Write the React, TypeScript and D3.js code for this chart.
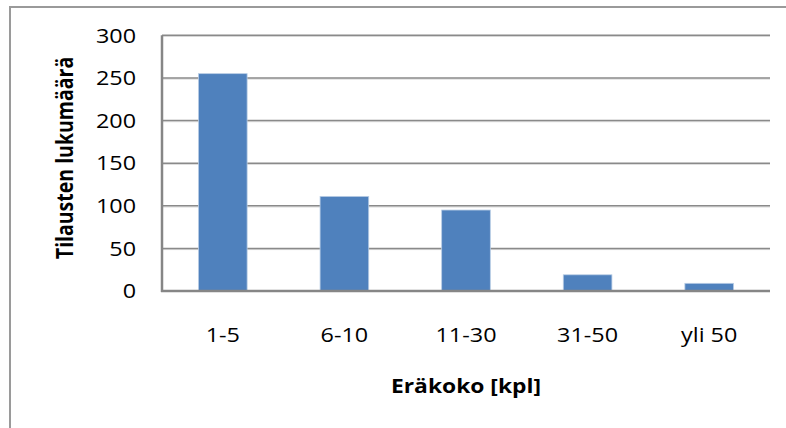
import React from "react";
import * as d3 from "d3";

const categories = ["1-5", "6-10", "11-30", "31-50", "yli 50"];
const orderCounts = [255, 111, 95, 19, 9];
const yTicks = [0, 50, 100, 150, 200, 250, 300];

const W = 786;
const H = 428;
const plot = { left: 162, right: 770, top: 35.3, bottom: 291 };
const font = "'Open Sans', 'Liberation Sans', sans-serif";
// glyphs are drawn slightly wide, as in the exported chart
const stretch = 1.17;

type LabelProps = {
  x: number;
  y: number;
  anchor: "start" | "middle" | "end";
  bold?: boolean;
  size?: number;
  dy?: string;
  children: React.ReactNode;
};

function Label({ x, y, anchor, bold, size = 20, dy, children }: LabelProps) {
  return (
    <text
      transform={`translate(${x},${y}) scale(${stretch},1)`}
      textAnchor={anchor}
      dy={dy}
      fontFamily={font}
      fontSize={size}
      fontWeight={bold ? "bold" : "normal"}
      fill="#000"
    >
      {children}
    </text>
  );
}

export default function App() {
  const x = d3
    .scaleBand<string>()
    .domain(categories)
    .range([plot.left, plot.right])
    .paddingInner(0.6)
    .paddingOuter(0.3);
  const y = d3.scaleLinear().domain([0, 300]).range([plot.bottom, plot.top]);

  return (
    <svg
      width={W}
      height={H}
      style={{ position: "fixed", left: 0, top: 0, background: "#fff" }}
    >
      {/* chart area frame */}
      <rect x={10} y={7} width={W + 10} height={H + 10} fill="#fff" stroke="#9a9a9a" strokeWidth={2} />

      {/* gridlines */}
      {yTicks.slice(1).map((t) => (
        <g key={t}>
          <line x1={plot.left} x2={plot.right} y1={y(t) + 1.2} y2={y(t) + 1.2} stroke="#d8d8d8" strokeWidth={1} />
          <line x1={plot.left} x2={plot.right} y1={y(t)} y2={y(t)} stroke="#8a8a8a" strokeWidth={1.5} />
        </g>
      ))}

      {/* bars */}
      {categories.map((c, i) => (
        <rect
          key={c}
          x={x(c)!}
          y={y(orderCounts[i])}
          width={x.bandwidth()}
          height={y(0) - y(orderCounts[i])}
          fill="#4f81bd"
          stroke="#b9cde5"
          strokeWidth={0.8}
        />
      ))}

      {/* axes */}
      <line x1={plot.left} x2={plot.left} y1={plot.top} y2={plot.bottom + 1} stroke="#868686" strokeWidth={2.5} />
      <line x1={plot.left - 1} x2={plot.right} y1={plot.bottom} y2={plot.bottom} stroke="#868686" strokeWidth={2.5} />

      {/* y tick labels */}
      {yTicks.map((t) => (
        <Label key={t} x={136} y={y(t)} dy="0.36em" anchor="end">
          {t}
        </Label>
      ))}

      {/* x tick labels */}
      {categories.map((c) => (
        <Label key={c} x={x(c)! + x.bandwidth() / 2} y={342} anchor="middle">
          {c}
        </Label>
      ))}

      {/* axis titles */}
      <Label x={(plot.left + plot.right) / 2} y={393} anchor="middle" bold size={19.5}>
        Eräkoko [kpl]
      </Label>
      <text
        transform={`translate(72.5, 158) rotate(-90) scale(1,${stretch})`}
        textAnchor="middle"
        fontFamily={font}
        fontSize={19.5}
        fontWeight="bold"
        fill="#000"
      >
        Tilausten lukumäärä
      </text>
    </svg>
  );
}
